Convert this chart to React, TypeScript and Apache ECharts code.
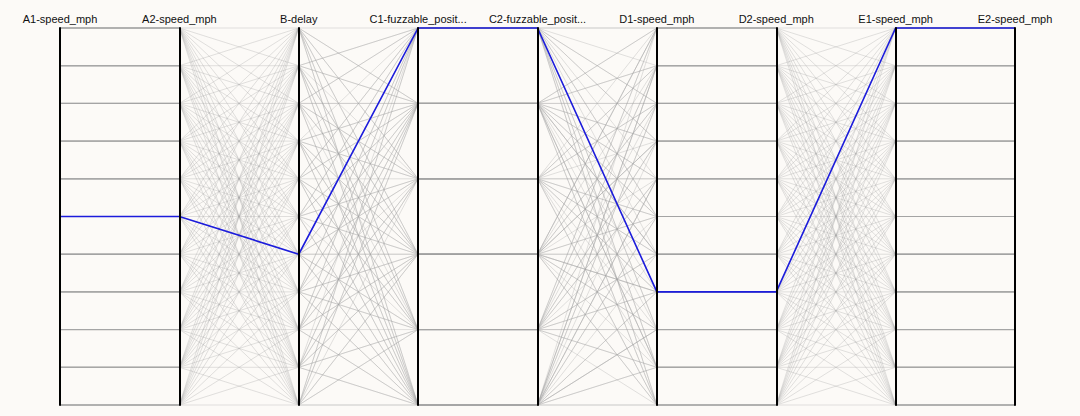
import React, { useEffect, useRef } from "react";
import * as echarts from "echarts";

const axisNames = [
  "A1-speed_mph",
  "A2-speed_mph",
  "B-delay",
  "C1-fuzzable_posit...",
  "C2-fuzzable_posit...",
  "D1-speed_mph",
  "D2-speed_mph",
  "E1-speed_mph",
  "E2-speed_mph",
];

// A (A1 = A2)
const aVals = [
  0, 0, 0, 0, 0, 0, 0, 0, 0, 0, 0,
  1, 1, 1, 1, 1, 1, 1, 1, 1, 1, 1,
  2, 2, 2, 2, 2, 2, 2, 2, 2, 2, 2,
  3, 3, 3, 3, 3, 3, 3, 3, 3, 3, 3,
  4, 4, 4, 4, 4, 4, 4, 4, 4, 4, 4,
  5, 5, 5, 5, 5, 5, 5, 5, 5, 5, 5,
  6, 6, 6, 6, 6, 6, 6, 6, 6, 6, 6,
  7, 7, 7, 7, 7, 7, 7, 7, 7, 7, 7,
  8, 8, 8, 8, 8, 8, 8, 8, 8, 8, 8,
  9, 9, 9, 9, 9, 9, 9, 9, 9, 9, 9,
  10, 10, 10, 10, 10, 10, 10, 10, 10, 10, 10,
];

// B
const bVals = [
  0, 1, 2, 3, 4, 5, 6, 7, 8, 9, 10,
  0, 1, 2, 3, 4, 5, 6, 7, 8, 9, 10,
  0, 1, 2, 3, 4, 5, 6, 7, 8, 9, 10,
  0, 1, 2, 3, 4, 5, 6, 7, 8, 9, 10,
  0, 1, 2, 3, 4, 5, 6, 7, 8, 9, 10,
  0, 1, 2, 3, 4, 5, 6, 7, 8, 9, 10,
  0, 1, 2, 3, 4, 5, 6, 7, 8, 9, 10,
  0, 1, 2, 3, 4, 5, 6, 7, 8, 9, 10,
  0, 1, 2, 3, 4, 5, 6, 7, 8, 9, 10,
  0, 1, 2, 3, 4, 5, 6, 7, 8, 9, 10,
  0, 1, 2, 3, 4, 5, 6, 7, 8, 9, 10,
];

// C (C1 = C2)
const cVals = [
  8, 0, 4, 8, 0, 4, 8, 0, 4, 8, 0,
  10, 2, 6, 10, 2, 6, 10, 2, 6, 10, 2,
  0, 4, 8, 0, 4, 8, 0, 4, 8, 0, 4,
  2, 6, 10, 2, 6, 10, 2, 6, 10, 2, 6,
  4, 8, 0, 4, 8, 0, 4, 8, 0, 4, 8,
  6, 10, 2, 6, 10, 2, 6, 10, 2, 6, 10,
  8, 0, 4, 8, 0, 4, 8, 0, 4, 8, 0,
  10, 2, 6, 10, 2, 6, 10, 2, 6, 10, 2,
  0, 4, 8, 0, 4, 8, 0, 4, 8, 0, 4,
  2, 6, 10, 2, 6, 10, 2, 6, 10, 2, 6,
  4, 8, 0, 4, 8, 0, 4, 8, 0, 4, 8,
];

// D (D1 = D2)
const dVals = [
  0, 5, 10, 4, 9, 3, 8, 2, 7, 1, 6,
  1, 6, 0, 5, 10, 4, 9, 3, 8, 2, 7,
  2, 7, 1, 6, 0, 5, 10, 4, 9, 3, 8,
  3, 8, 2, 7, 1, 6, 0, 5, 10, 4, 9,
  4, 9, 3, 8, 2, 7, 1, 6, 0, 5, 10,
  5, 10, 4, 9, 3, 8, 2, 7, 1, 6, 0,
  6, 0, 5, 10, 4, 9, 3, 8, 2, 7, 1,
  7, 1, 6, 0, 5, 10, 4, 9, 3, 8, 2,
  8, 2, 7, 1, 6, 0, 5, 10, 4, 9, 3,
  9, 3, 8, 2, 7, 1, 6, 0, 5, 10, 4,
  10, 4, 9, 3, 8, 2, 7, 1, 6, 0, 5,
];

// E (E1 = E2)
const eVals = [
  0, 4, 8, 1, 5, 9, 2, 6, 10, 3, 7,
  1, 5, 9, 2, 6, 10, 3, 7, 0, 4, 8,
  2, 6, 10, 3, 7, 0, 4, 8, 1, 5, 9,
  3, 7, 0, 4, 8, 1, 5, 9, 2, 6, 10,
  4, 8, 1, 5, 9, 2, 6, 10, 3, 7, 0,
  5, 9, 2, 6, 10, 3, 7, 0, 4, 8, 1,
  6, 10, 3, 7, 0, 4, 8, 1, 5, 9, 2,
  7, 0, 4, 8, 1, 5, 9, 2, 6, 10, 3,
  8, 1, 5, 9, 2, 6, 10, 3, 7, 0, 4,
  9, 2, 6, 10, 3, 7, 0, 4, 8, 1, 5,
  10, 3, 7, 0, 4, 8, 1, 5, 9, 2, 6,
];

// highlighted record: A, B, C, D, E
const highlighted = [5, 4, 10, 3, 10];

export default function App() {
  const ref = useRef<HTMLDivElement>(null);

  useEffect(() => {
    if (!ref.current) return;
    const chart = echarts.init(ref.current, null, { renderer: "svg" });

    const rows = aVals.map((a, i) => [
      a,
      a,
      bVals[i],
      cVals[i],
      cVals[i],
      dVals[i],
      dVals[i],
      eVals[i],
      eVals[i],
    ]);
    const [ha, hb, hc, hd, he] = highlighted;
    const hiRow = [ha, ha, hb, hc, hc, hd, hd, he, he];

    const axisCommon = {
      type: "value",
      min: 0,
      max: 10,
      nameLocation: "end",
      nameGap: 4,
      nameTextStyle: {
        fontSize: 11,
        color: "#111",
        fontFamily: "'Liberation Sans', Arial, sans-serif",
      },
      axisLine: { show: true, lineStyle: { color: "#000", width: 2 } },
      axisTick: {
        show: false,
        length: 0,
        lineStyle: { width: 0, opacity: 0, color: "rgba(0,0,0,0)" },
      },
      minorTick: { show: false },
      axisLabel: {
        show: false,
        color: "rgba(0,0,0,0)",
        formatter: () => "",
      },
      splitLine: { show: false },
    };

    chart.setOption({
      animation: false,
      backgroundColor: "#fcfaf7",
      parallel: {
        left: 60,
        right: 65,
        top: 28,
        bottom: 11,
        layout: "horizontal",
        parallelAxisDefault: axisCommon,
      },
      parallelAxis: axisNames.map((name, i) => ({
        ...axisCommon,
        dim: i,
        name,
      })),
      series: [
        {
          type: "parallel",
          silent: true,
          smooth: false,
          lineStyle: { color: "#a4a4a4", width: 0.8, opacity: 0.4 },
          data: rows,
          z: 2,
        },
        {
          type: "parallel",
          silent: true,
          smooth: false,
          lineStyle: { color: "#1c1cdc", width: 1.6, opacity: 1 },
          data: [hiRow],
          z: 3,
        },
      ],
    });

    return () => chart.dispose();
  }, []);

  return (
    <div
      ref={ref}
      style={{
        position: "fixed",
        left: 0,
        top: 0,
        width: "1080px",
        height: "416px",
      }}
    />
  );
}
